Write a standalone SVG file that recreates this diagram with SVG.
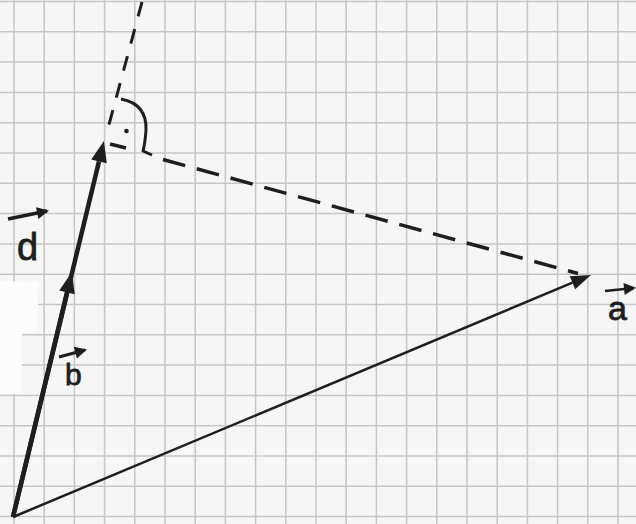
<svg xmlns="http://www.w3.org/2000/svg" width="636" height="524" viewBox="0 0 636 524">
<style>
.grid{stroke:#c6c6c6;stroke-width:1.5;fill:none}
.ink{stroke:#1e1e1e;fill:none;stroke-linecap:butt}
.lbl{font-family:"Liberation Sans",Arial,sans-serif;fill:#1e1e1e;stroke:#1e1e1e;stroke-width:0.8}
</style>
<defs>
<marker id="headBig" markerUnits="userSpaceOnUse" markerWidth="22" markerHeight="16" refX="0" refY="8" orient="auto" overflow="visible">
<path d="M0,0 L21,8 L0,16 Z" fill="#1e1e1e"/>
</marker>
<marker id="headA" markerUnits="userSpaceOnUse" markerWidth="20" markerHeight="14" refX="0" refY="7" orient="auto" overflow="visible">
<path d="M0,0 L20,7 L0,14 Z" fill="#1e1e1e"/>
</marker>
<marker id="headSmall" markerUnits="userSpaceOnUse" markerWidth="13" markerHeight="12" refX="10" refY="6" orient="auto" overflow="visible">
<path d="M0,0 L12,6 L0,12 Z" fill="#1e1e1e"/>
</marker>
</defs>
<rect width="636" height="524" fill="#f6f6f6"/>
<g id="grid">
<path class="grid" d="M14,0V524M44.2,0V524M74.4,0V524M104.6,0V524M134.8,0V524M165,0V524M195.2,0V524M225.4,0V524M255.6,0V524M285.8,0V524M316,0V524M346.2,0V524M376.4,0V524M406.6,0V524M436.8,0V524M467,0V524M497.2,0V524M527.4,0V524M557.6,0V524M587.8,0V524M618,0V524"/>
<path class="grid" d="M0,1.5H636M0,31.8H636M0,62.1H636M0,92.4H636M0,122.7H636M0,153H636M0,183.3H636M0,213.6H636M0,243.9H636M0,274.2H636M0,304.5H636M0,334.8H636M0,365.1H636M0,395.4H636M0,425.7H636M0,456H636M0,486.3H636M0,516.6H636"/>
<polygon points="0,281 38,282 38,331 22,333 22,394 0,394" fill="#fcfcfc"/>
</g>
<g id="connectors">
<line id="vec-d" class="ink" x1="13" y1="517" x2="99" y2="161.4" stroke-width="4.5" marker-end="url(#headBig)"/>
<line id="vec-b" class="ink" x1="13" y1="517" x2="67" y2="292.4" stroke-width="4.5" marker-end="url(#headBig)"/>
<line id="vec-a" class="ink" x1="13" y1="517" x2="572.5" y2="282.7" stroke-width="2.5" marker-end="url(#headA)"/>
<line id="dash-up" class="ink" x1="142" y1="2" x2="107" y2="132" stroke-width="3" stroke-dasharray="15 13"/>
<line id="dash-short" class="ink" x1="110" y1="144" x2="126" y2="148" stroke-width="3.5"/>
<line id="dash-ad" class="ink" x1="163" y1="159.5" x2="578" y2="273.5" stroke-width="3.5" stroke-dasharray="23 12"/>
<path id="right-angle" class="ink" d="M121,99 Q147,104 146,130 Q145,144 143,151 L152,155" stroke-width="3" stroke-linecap="round" stroke-linejoin="round"/>
<circle cx="126.5" cy="131" r="2.3" fill="#1e1e1e"/>
</g>
<g id="label-d">
<line class="ink" x1="8" y1="219" x2="47" y2="211" stroke-width="3.5" marker-end="url(#headSmall)"/>
<text class="lbl" x="17" y="260" font-size="38">d</text>
</g>
<g id="label-b">
<line class="ink" x1="59" y1="357" x2="85" y2="350" stroke-width="3" marker-end="url(#headSmall)"/>
<text class="lbl" x="65" y="385" font-size="30">b</text>
</g>
<g id="label-a">
<line class="ink" x1="605" y1="291" x2="634" y2="288" stroke-width="2.5" marker-end="url(#headSmall)"/>
<text class="lbl" x="608" y="320" font-size="34">a</text>
</g>
</svg>
